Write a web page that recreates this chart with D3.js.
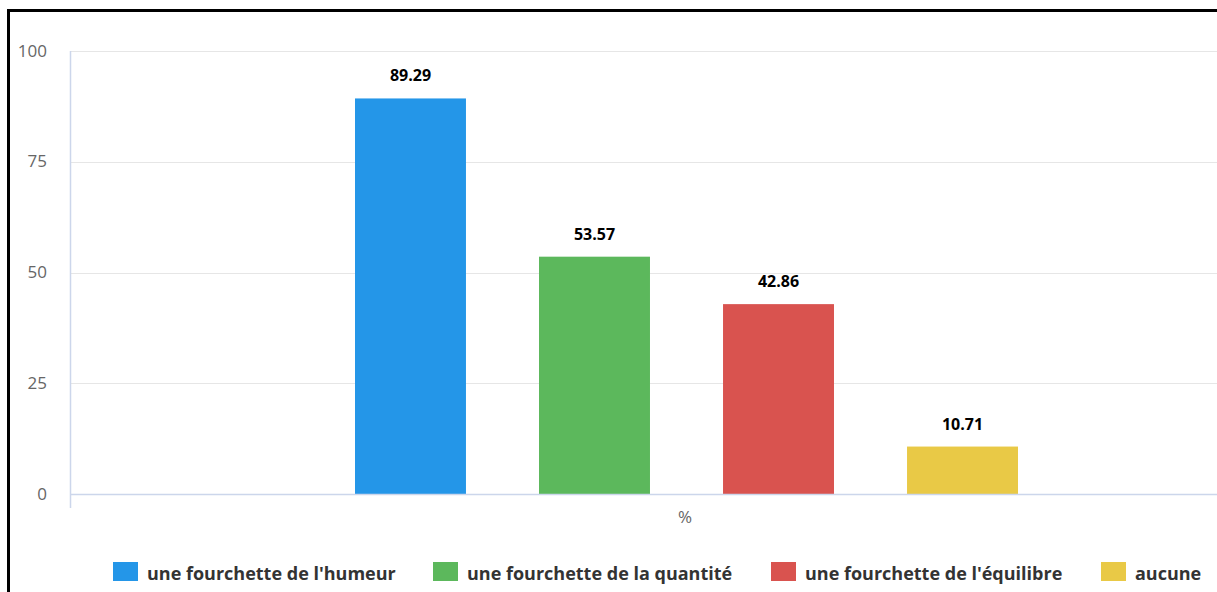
<!DOCTYPE html>
<html>
<head>
<meta charset="utf-8">
<script src="https://cdn.jsdelivr.net/npm/d3@7"></script>
<style>
  html, body { margin: 0; padding: 0; background: #fff; overflow: hidden; }
  svg { display: block; font-family: "Open Sans", "DejaVu Sans", sans-serif; }
</style>
</head>
<body>
<svg id="chart" width="1217" height="592"></svg>
<script>
// Survey answers, in percent
const categories = ["%"];
const seriesNames = [
  "une fourchette de l'humeur",
  "une fourchette de la quantité",
  "une fourchette de l'équilibre",
  "aucune"
];
const seriesValues = [89.29, 53.57, 42.86, 10.71];
const seriesColors = ["#2496E8", "#5CB85C", "#D9534F", "#E9C946"];
const yTicks = [0, 25, 50, 75, 100];

const svg = d3.select("#chart");

// Outer frame (only top and left edges fall inside the view)
svg.append("rect")
  .attr("x", 8.5).attr("y", 10.5)
  .attr("width", 1300).attr("height", 700)
  .attr("fill", "none").attr("stroke", "#000").attr("stroke-width", 3);

const plot = { left: 70, right: 1300, top: 51, bottom: 494 };

const y = d3.scaleLinear().domain([0, 100]).range([plot.bottom, plot.top]);
const x = d3.scaleBand().domain(categories).range([plot.left, plot.right]);
const groupWidth = 663;
const inner = d3.scaleBand().domain(seriesNames)
  .range([0, groupWidth]).paddingInner(0.397).paddingOuter(0);

// Horizontal gridlines
svg.append("g").selectAll("line")
  .data(yTicks.filter(t => t !== 0))
  .join("line")
  .attr("x1", plot.left).attr("x2", plot.right)
  .attr("y1", d => Math.round(y(d)) + 0.5).attr("y2", d => Math.round(y(d)) + 0.5)
  .attr("stroke", "#e6e6e6").attr("stroke-width", 1);

// Y-axis labels
const yAxis = d3.axisLeft(y).tickValues(yTicks).tickSize(0).tickPadding(23);
const gy = svg.append("g").attr("transform", `translate(${plot.left},0)`).call(yAxis);
gy.select(".domain").remove();
gy.selectAll("text")
  .attr("fill", "#666").attr("font-size", 17)
  .attr("font-family", "'Open Sans', sans-serif")
  .attr("dy", "0.3em");

// Vertical axis line / category tick
svg.append("line")
  .attr("x1", plot.left + 0.5).attr("x2", plot.left + 0.5)
  .attr("y1", plot.top).attr("y2", plot.bottom + 14)
  .attr("stroke", "#ccd6eb").attr("stroke-width", 1.5);

// Bars
const barG = svg.append("g");
categories.forEach(cat => {
  const x0 = x(cat) + x.bandwidth() / 2 - groupWidth / 2 + 1.5;
  const rows = seriesNames.map((n, i) => ({ name: n, value: seriesValues[i], color: seriesColors[i] }));
  barG.selectAll(null)
    .data(rows)
    .join("rect")
    .attr("x", d => x0 + inner(d.name))
    .attr("width", inner.bandwidth())
    .attr("y", d => y(d.value))
    .attr("height", d => y(0) - y(d.value))
    .attr("fill", d => d.color);

  barG.selectAll(null)
    .data(rows)
    .join("text")
    .attr("x", d => x0 + inner(d.name) + inner.bandwidth() / 2)
    .attr("y", d => y(d.value) - 17)
    .attr("text-anchor", "middle")
    .attr("font-size", 16).attr("font-weight", 700)
    .attr("fill", "#000")
    .attr("stroke", "#fff").attr("stroke-width", 2).attr("paint-order", "stroke")
    .text(d => d.value.toFixed(2));
});

// X axis baseline
svg.append("line")
  .attr("x1", plot.left).attr("x2", plot.right)
  .attr("y1", plot.bottom + 0.5).attr("y2", plot.bottom + 0.5)
  .attr("stroke", "#ccd6eb").attr("stroke-width", 1.5);

// Category label
svg.selectAll(null).data(categories).join("text")
  .attr("x", d => x(d) + x.bandwidth() / 2)
  .attr("y", 523)
  .attr("text-anchor", "middle")
  .attr("font-size", 17).attr("fill", "#666")
  .text(d => d);

// Legend
const legendX = [113, 433, 771, 1101];
const legend = svg.append("g").selectAll("g")
  .data(seriesNames)
  .join("g")
  .attr("transform", (d, i) => `translate(${legendX[i]},562)`);
legend.append("rect")
  .attr("width", 25).attr("height", 19)
  .attr("fill", (d, i) => seriesColors[i]);
legend.append("text")
  .attr("x", 34).attr("y", 18)
  .attr("font-size", 18).attr("font-weight", 700)
  .attr("fill", "#333")
  .text(d => d);
</script>
</body>
</html>
